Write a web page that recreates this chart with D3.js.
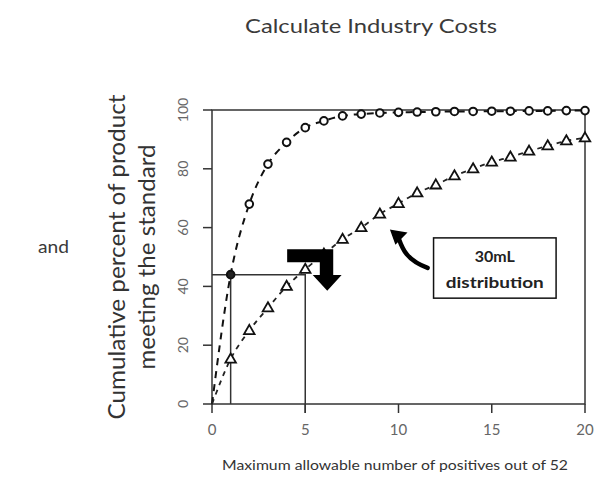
<!DOCTYPE html>
<html lang="en">
<head>
<meta charset="utf-8">
<title>Calculate Industry Costs</title>
<script src="https://d3js.org/d3.v7.min.js"></script>
<style>
  body { margin: 0; background: #fff; }
  svg text { font-family: Lato, "Open Sans", sans-serif; }
</style>
</head>
<body>
<svg width="597" height="479"></svg>
<script>
// positives allowed out of 52
var xVals = [0,1,2,3,4,5,6,7,8,9,10,11,12,13,14,15,16,17,18,19,20];
// circle series (upper curve)
var circleVals = [0,44,68,81.6,89,94,96.3,98,98.6,99,99.2,99.3,99.4,99.5,99.5,99.6,99.6,99.7,99.7,99.8,99.8];
// triangle series (30mL distribution)
var triVals = [0,15.3,25,32.7,40,45.8,51,56,60,64.6,68.2,71.8,74.5,77.6,80,82.3,84,86,87.8,89.5,90.5];
var xTicks = [0,5,10,15,20];
var yTicks = [0,20,40,60,80,100];

var svg = d3.select('svg');

var x = d3.scaleLinear().domain([0,20]).range([212,585]);
var y = d3.scaleLinear().domain([0,100]).range([404,110]);

var circ = xVals.map((d,i) => ({x: d, y: circleVals[i]}));
var tri = xVals.map((d,i) => ({x: d, y: triVals[i]}));

// title
svg.append('text')
  .attr('x', 371).attr('y', 33)
  .attr('text-anchor', 'middle')
  .attr('textLength', 252).attr('lengthAdjust', 'spacingAndGlyphs')
  .style('font-size', '19px')
  .style('fill', '#3a3a3a')
  .text('Calculate Industry Costs');

svg.append('text')
  .attr('x', 38).attr('y', 253)
  .attr('textLength', 31).attr('lengthAdjust', 'spacingAndGlyphs')
  .style('font-size', '18px')
  .style('fill', '#3a3a3a')
  .text('and');

// box
svg.append('rect')
  .attr('x', x(0)).attr('y', y(100))
  .attr('width', x(20) - x(0)).attr('height', y(0) - y(100))
  .attr('fill', 'none')
  .attr('stroke', '#333')
  .attr('stroke-width', 1.5);

// ticks, outward like R
var tl = 9;
svg.selectAll('.xt').data(xTicks).enter().append('line')
  .attr('x1', d => x(d)).attr('x2', d => x(d))
  .attr('y1', y(0)).attr('y2', y(0) + tl)
  .attr('stroke', '#333').attr('stroke-width', 1.5);
svg.selectAll('.xl').data(xTicks).enter().append('text')
  .attr('x', d => x(d)).attr('y', y(0) + 31)
  .attr('text-anchor', 'middle')
  .style('font-size', '15px').style('fill', '#666')
  .text(d => d);

svg.selectAll('.yt').data(yTicks).enter().append('line')
  .attr('x1', x(0) - tl).attr('x2', x(0))
  .attr('y1', d => y(d)).attr('y2', d => y(d))
  .attr('stroke', '#333').attr('stroke-width', 1.5);
svg.selectAll('.yl').data(yTicks).enter().append('text')
  .attr('transform', d => 'translate(' + (x(0) - 24) + ',' + y(d) + ') rotate(-90)')
  .attr('text-anchor', 'middle')
  .style('font-size', '14px').style('fill', '#666')
  .text(d => d);

// axis titles
svg.append('text')
  .attr('transform', 'translate(125,' + y(50) + ') rotate(-90)')
  .attr('text-anchor', 'middle')
  .attr('textLength', 325).attr('lengthAdjust', 'spacingAndGlyphs')
  .style('font-size', '23px').style('fill', '#333')
  .text('Cumulative percent of product');
svg.append('text')
  .attr('transform', 'translate(155,' + y(50) + ') rotate(-90)')
  .attr('text-anchor', 'middle')
  .attr('textLength', 225).attr('lengthAdjust', 'spacingAndGlyphs')
  .style('font-size', '23px').style('fill', '#333')
  .text('meeting the standard');

svg.append('text')
  .attr('x', 395).attr('y', 470)
  .attr('text-anchor', 'middle')
  .attr('textLength', 346).attr('lengthAdjust', 'spacingAndGlyphs')
  .style('font-size', '13px').style('fill', '#333')
  .text('Maximum allowable number of positives out of 52');

// reference lines at x=1, x=5
svg.append('path')
  .attr('d', 'M' + x(0) + ',' + y(circleVals[1]) + 'H' + x(5) + 'V' + y(0) + 'V' + (y(0) + tl))
  .attr('fill', 'none').attr('stroke', '#333').attr('stroke-width', 1.5);
svg.append('line')
  .attr('x1', x(1)).attr('x2', x(1))
  .attr('y1', y(circleVals[1])).attr('y2', y(0))
  .attr('stroke', '#333').attr('stroke-width', 1.5);

// dashed lines
var line = d3.line().x(d => x(d.x)).y(d => y(d.y)).curve(d3.curveMonotoneX);
svg.append('path').datum(circ)
  .attr('d', line)
  .attr('fill', 'none').attr('stroke', '#111')
  .attr('stroke-width', 2).attr('stroke-dasharray', '7,6');
svg.append('path').datum(tri)
  .attr('d', line)
  .attr('fill', 'none').attr('stroke', '#222')
  .attr('stroke-width', 1.8).attr('stroke-dasharray', '5,5');

// markers
svg.selectAll('.cm').data(circ.slice(1)).enter().append('circle')
  .attr('cx', d => x(d.x)).attr('cy', d => y(d.y))
  .attr('r', 3.8)
  .attr('fill', (d, i) => i === 0 ? '#222' : '#fff')
  .attr('stroke', '#111').attr('stroke-width', 2);

var tsym = d3.symbol().type(d3.symbolTriangle).size(48);
svg.selectAll('.tm').data(tri.slice(1)).enter().append('path')
  .attr('d', tsym)
  .attr('transform', d => 'translate(' + x(d.x) + ',' + (y(d.y) + 0.5) + ')')
  .attr('fill', '#fff')
  .attr('stroke', '#111').attr('stroke-width', 1.8);

// black elbow arrow
var ap = [[4.03,52.6],[6.5,52.6],[6.5,43.9],[6.95,43.9],[6.18,38.5],[5.4,43.9],[5.78,43.9],[5.78,48.2],[4.03,48.2]];
svg.append('path')
  .attr('d', 'M' + ap.map(p => x(p[0]) + ',' + y(p[1])).join('L') + 'Z')
  .attr('fill', '#000');

// curved arrow pointing at triangle curve
svg.append('path')
  .attr('d', 'M' + x(11.56) + ',' + y(46.3) +
    'C' + x(10.4) + ',' + y(49) + ' ' + x(10.2) + ',' + y(53) + ' ' + x(10.0) + ',' + y(56.5))
  .attr('fill', 'none').attr('stroke', '#000').attr('stroke-width', 4.5)
  .attr('stroke-linecap', 'round');
svg.append('path')
  .attr('d', 'M' + x(9.6) + ',' + y(59) + 'L' + (x(10.4)) + ',' + y(58.2) + 'L' + x(9.85) + ',' + y(54.6) + 'Z')
  .attr('fill', '#000').attr('stroke', '#000').attr('stroke-width', 1.5);

// label box
var bx0 = 11.88, bx1 = 18.45;
svg.append('rect')
  .attr('x', x(bx0)).attr('y', y(56.5))
  .attr('width', x(bx1) - x(bx0)).attr('height', y(36) - y(56.5))
  .attr('fill', '#fff').attr('stroke', '#111').attr('stroke-width', 1.5);
svg.append('text')
  .attr('x', (x(bx0) + x(bx1)) / 2).attr('y', 262)
  .attr('text-anchor', 'middle')
  .attr('textLength', 40).attr('lengthAdjust', 'spacingAndGlyphs')
  .style('font-size', '15px').style('font-weight', 'bold').style('fill', '#222')
  .text('30mL');
svg.append('text')
  .attr('x', (x(bx0) + x(bx1)) / 2).attr('y', 288)
  .attr('text-anchor', 'middle')
  .attr('textLength', 98).attr('lengthAdjust', 'spacingAndGlyphs')
  .style('font-size', '15px').style('font-weight', 'bold').style('fill', '#222')
  .text('distribution');
</script>
</body>
</html>
